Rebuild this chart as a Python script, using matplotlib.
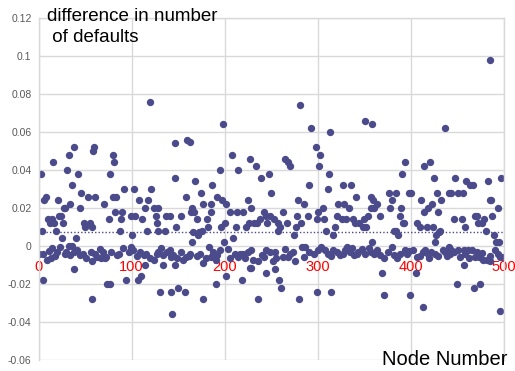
import matplotlib
matplotlib.use("Agg")
import matplotlib.pyplot as plt
import numpy as np

# --------------------------------------------------------------- data
# (node number, difference in number of defaults)
# grouped by x-range; near-zero band kept separately.

nodes_0_80 = [
    (38, .052), (60, .052), (59, .050), (33, .048), (16, .044), (3, .038),
    (31, .040), (42, .038), (77, .038), (36, .032), (46, .028), (53, .026),
    (61, .026), (8, .026), (6, .024), (21, .024), (70, .022), (34, .022),
    (27, .020), (28, .020), (45, .020), (24, .016), (22, .016), (10, .014),
    (15, .014), (12, .012), (17, .012), (26, .012), (76, .014), (49, .012),
    (55, .012), (50, .010), (58, .010), (4, .008), (19, .008), (25, .004),
    (40, .004), (33, .000), (36, .000), (38, -.012), (5, -.018), (74, -.020),
    (77, -.020), (58, -.028),
]
nodes_80_165 = [
    (120, .076), (147, .054), (160, .056), (163, .055), (80, .048), (81, .044),
    (147, .036), (92, .030), (103, .030), (121, .030), (159, .026), (80, .026),
    (83, .026), (108, .024), (118, .024), (114, .020), (124, .020), (129, .020),
    (82, .018), (90, .018), (164, .018), (99, .016), (104, .016), (126, .016),
    (137, .016), (141, .016), (153, .016), (89, .014), (111, .014), (127, .012),
    (148, .010), (88, .008), (117, .008), (128, .008), (136, .008), (101, .006),
    (115, -.010), (94, -.018), (107, -.018), (110, -.016), (131, -.024),
    (142, -.024), (150, -.022), (158, -.024), (144, -.036),
]
nodes_165_250 = [
    (198, .064), (208, .048), (227, .046), (234, .042), (195, .040), (215, .040),
    (239, .036), (248, .038), (168, .034), (187, .032), (175, .028), (250, .028),
    (192, .026), (197, .024), (202, .022), (225, .024), (177, .022), (185, .022),
    (186, .018), (165, .020), (167, .018), (206, .018), (213, .018), (220, .018),
    (228, .020), (242, .018), (245, .016), (170, .014), (181, .014), (238, .014),
    (235, .012), (232, .012), (246, .012), (200, .012), (196, .010), (212, .010),
    (223, .010), (226, .012), (182, .010), (176, .008), (173, .0075), (171, .006),
    (166, .0075), (209, .004), (199, .002), (165, .002), (202, -.016),
    (219, -.018), (191, -.020), (177, -.028), (236, -.028),
]
nodes_250_335 = [
    (281, .074), (293, .062), (313, .060), (298, .052), (303, .048), (302, .042),
    (265, .046), (268, .044), (270, .042), (312, .038), (291, .032), (311, .030),
    (327, .032), (336, .032), (279, .024), (285, .022), (306, .020), (322, .022),
    (328, .022), (334, .020), (263, .018), (300, .018), (249, .016), (253, .014),
    (278, .016), (290, .016), (299, .014), (307, .014), (321, .016), (326, .014),
    (331, .014), (257, .012), (267, .012), (282, .012), (260, .010), (277, .010),
    (258, .008), (319, .010), (309, .008), (275, .006), (317, .006),
    (254, -.012), (259, -.018), (261, -.022), (280, -.028), (299, -.024),
    (314, -.024),
]
nodes_335_420 = [
    (351, .066), (359, .064), (394, .044), (391, .038), (415, .042), (421, .044),
    (341, .026), (357, .026), (377, .028), (384, .028), (398, .028), (401, .028),
    (360, .024), (364, .022), (358, .020), (361, .020), (380, .024), (411, .024),
    (378, .020), (390, .020), (414, .018), (419, .020), (367, .016), (389, .016),
    (338, .014), (350, .014), (354, .016), (340, .012), (345, .012), (349, .010),
    (352, .010), (392, .012), (393, .012), (407, .012), (410, .010), (382, .008),
    (384, .008), (387, .006), (418, .010), (359, .002), (369, -.014),
    (406, -.014), (371, -.026), (399, -.026), (413, -.032),
]
nodes_420_500 = [
    (486, .098), (437, .062), (425, .036), (448, .036), (497, .036), (460, .034),
    (464, .032), (467, .032), (483, .034), (428, .028), (433, .024), (441, .028),
    (444, .028), (451, .028), (456, .028), (485, .024), (487, .024), (423, .022),
    (430, .018), (494, .020), (469, .016), (472, .016), (488, .016), (447, .014),
    (455, .014), (479, .014), (477, .012), (473, .012), (459, .010), (424, .010),
    (431, .0075), (427, .006), (432, .008), (481, .008), (490, .006),
    (426, .002), (492, .002), (495, .002), (457, -.010), (485, -.008),
    (450, -.020), (468, -.022), (475, -.020), (496, -.034),
]
# dense band just below zero
band = [
    (1, -.004), (5, -.004), (11, -.0026), (13, -.0065), (9, -.0074),
    (15, -.0012), (23, -.0004), (29, -.004), (30, -.003), (38, -.003),
    (41, -.002), (45, -.0047), (48, -.0044), (51, -.0065), (56, -.003),
    (57, -.008), (63, -.0056), (66, -.0016), (67, -.0065), (71, -.0065),
    (73, -.0056), (78, -.003), (18, -.005), (20, -.003), (34, -.0045),
    (61, -.004), (69, -.003),
    (84, -.0047), (91, -.0012), (97, -.003), (99, -.0004), (102, -.002),
    (109, -.003), (113, -.0047), (116, -.004), (120, -.0065), (124, -.0074),
    (129, -.003), (132, -.0012), (134, -.0047), (138, -.003), (141, -.002),
    (145, -.0047), (149, -.0065), (153, -.003), (155, -.0074), (159, -.0056),
    (134, -.010), (147, -.010), (87, -.004), (106, -.005), (127, -.004),
    (143, -.006), (162, -.005),
    (163, -.004), (174, -.004), (183, -.0004), (180, -.0065), (177, -.009),
    (188, -.003), (192, -.0047), (195, -.002), (191, -.0074), (204, -.0018),
    (206, -.0065), (217, -.004), (220, -.0044), (215, -.0056), (222, -.0065),
    (229, -.002), (231, -.0074), (236, -.0077), (240, -.0047), (245, -.002),
    (249, -.003), (227, -.0118), (229, -.0118), (245, -.0144), (170, -.005),
    (185, -.006), (211, -.004), (225, -.003), (243, -.006),
    (254, -.003), (255, -.0065), (265, -.0016), (263, -.0056), (270, -.004),
    (274, -.003), (276, -.008), (283, -.0004), (287, -.0004), (285, -.0056),
    (296, -.004), (304, -.0004), (308, -.002), (311, -.004), (317, -.002),
    (321, -.003), (324, -.0047), (330, -.002), (332, -.0004), (335, -.003),
    (252, -.008), (268, -.006), (291, -.003), (301, -.002), (314, -.005),
    (327, -.004),
    (337, -.0012), (339, -.0047), (344, -.003), (348, -.0016), (351, -.004),
    (355, -.0012), (358, -.003), (364, -.002), (367, -.0047), (372, -.0065),
    (376, -.003), (380, -.0004), (382, -.0047), (385, -.0065), (394, -.002),
    (398, -.0026), (403, -.002), (407, -.0056), (413, -.003), (419, -.004),
    (420, -.0061), (342, -.004), (361, -.004), (389, -.004), (396, -.004),
    (410, -.005), (416, -.002),
    (422, -.003), (426, -.004), (435, -.002), (437, -.003), (441, -.0004),
    (443, -.004), (444, -.002), (447, -.003), (451, -.002), (453, -.0056),
    (457, -.002), (462, -.002), (466, -.002), (463, -.0061), (469, -.0056),
    (474, -.0056), (477, -.0035), (478, -.0074), (491, -.002), (494, -.004),
    (496, -.0056), (482, -.0074), (430, -.005), (439, -.005), (459, -.004),
    (471, -.003), (486, -.005), (499, -.006),
]
mean_diff = 0.0075  # dotted reference line

x_ticks = [0, 100, 200, 300, 400, 500]
y_ticks = [-0.06, -0.04, -0.02, 0, 0.02, 0.04, 0.06, 0.08, 0.1, 0.12]
y_labels = ["-0.06", "-0.04", "-0.02", "0", "0.02", "0.04", "0.06",
            "0.08", "0.1", "0.12"]

# --------------------------------------------------------------- plot

pts = np.array(nodes_0_80 + nodes_80_165 + nodes_165_250 + nodes_250_335
               + nodes_335_420 + nodes_420_500 + band)

plt.rcParams["font.family"] = ["Liberation Sans", "DejaVu Sans"]
W, H = 515, 371
fig = plt.figure(figsize=(W / 100, H / 100), dpi=100)
ax = fig.add_axes([38.5 / W, 11 / H, 465 / W, 342 / H])

grid_c = "#d9d9d9"
dot_c = "#4b4b8c"

ax.scatter(pts[:, 0], pts[:, 1], s=28, color=dot_c, linewidths=0, zorder=2)
ax.plot([0, 500], [mean_diff, mean_diff], ls=(0, (1, 1.5)), lw=1,
        color=dot_c, zorder=1.5)

ax.set_xlim(0, 500)
ax.set_ylim(-0.06, 0.12)
ax.set_xticks(x_ticks)
ax.set_xticklabels([str(t) for t in x_ticks])
ax.set_yticks(y_ticks)
ax.set_yticklabels(y_labels)
ax.grid(True, color=grid_c, lw=1, zorder=0)
ax.set_axisbelow(True)
for s in ax.spines.values():
    s.set_color(grid_c)
    s.set_linewidth(1)
ax.spines["bottom"].set_position(("data", 0))
ax.spines["bottom"].set_visible(False)

ax.tick_params(axis="x", length=0, pad=10, labelsize=10.5, labelcolor="red")
ax.tick_params(axis="y", length=0, pad=5, labelsize=7.5, labelcolor="#595959")

fig.text(47 / W, 1 - 21 / H, "difference in number", fontsize=13.5,
         va="baseline", ha="left")
fig.text(47 / W, 1 - 42 / H, " of defaults", fontsize=13.5,
         va="baseline", ha="left")
fig.text(508 / W, 1 - 365 / H, "Node Number", fontsize=14.5,
         va="baseline", ha="right")

fig.savefig("out.png", dpi=100)
